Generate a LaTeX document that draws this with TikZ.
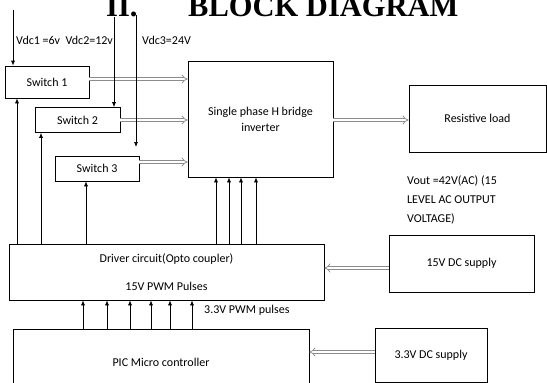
\documentclass[tikz,border=0pt]{standalone}
\usepackage{fontspec}
\setmainfont{Carlito}
\newfontfamily\titlefont{Liberation Serif}
\usetikzlibrary{arrows.meta}

\begin{document}
\begin{tikzpicture}[x=1pt, y=-1pt,
  blocco/.style={draw, line width=0.7pt, inner sep=0pt, font=\fontsize{12}{14}\selectfont},
  segnale/.style={line width=0.7pt, -{Latex[length=5pt,width=4pt]}},
  potenza/.style={draw=colFreccia, double=white, double distance=2.4pt, line width=0.75pt, -{Implies}},
  testo/.style={font=\fontsize{12}{14}\selectfont, inner sep=0pt}]

% Colori
\definecolor{colFreccia}{HTML}{8C8C8C}

% Cornice
\useasboundingbox (0,0) rectangle (547,383);
\clip (0,0) rectangle (547,383);

% Titolo
\node[font=\titlefont\bfseries\fontsize{30.5}{31}\selectfont, anchor=base west, inner sep=0pt] (numero) at (106,16) {II.};
\node[font=\titlefont\bfseries\fontsize{30.5}{31}\selectfont, anchor=base west, inner sep=0pt] (titolo) at (188,16) {BLOCK DIAGRAM};

% Blocchi
\node[blocco, minimum width=84pt, minimum height=32pt] (sw1) at (47,82) {Switch 1};
\node[blocco, minimum width=85pt, minimum height=25pt] (sw2) at (77.5,120) {Switch 2};
\node[blocco, minimum width=84pt, minimum height=25pt] (sw3) at (97,168.5) {Switch 3};
\node[blocco, minimum width=145pt, minimum height=116pt, align=center] (inv) at (260.5,119) {Single phase H bridge\\[2pt]inverter};
\node[blocco, minimum width=137pt, minimum height=67pt] (load) at (477.5,118.5) {Resistive load};
\node[blocco, minimum width=315pt, minimum height=56pt, align=center] (drv) at (166.5,272) {Driver circuit(Opto coupler)\\[14pt]15V PWM Pulses};
\node[blocco, minimum width=145pt, minimum height=57pt] (sup15) at (461.5,263.5) {15V DC supply};
\node[blocco, minimum width=296pt, minimum height=66pt] (pic) at (161,362) {PIC Micro controller};
\node[blocco, minimum width=112pt, minimum height=54pt] (sup33) at (431,355) {3.3V DC supply};

% Uscite degli interruttori
\draw[potenza] (sw1.east |- 0,79) -- (inv.west |- 0,79);
\draw[potenza] (sw2.east) -- (sw2.east -| inv.west);
\draw[potenza] (sw3.east |- 0,162) -- (inv.west |- 0,162);
\draw[potenza] (inv.east |- 0,120) -- (load.west |- 0,120);
\node[testo, anchor=north west, align=left, font=\fontsize{12}{19}\selectfont] (vout) at (407,176) {Vout =42V(AC) (15\\LEVEL AC OUTPUT\\VOLTAGE)};

% Tensioni continue
\coordinate (v1) at (13,10);
\coordinate (v2) at (114,17);
\coordinate (v3) at (136,15);
\coordinate (v3e) at (136,147);
\draw[segnale] (v1) -- (v1 |- sw1.north);
\draw[segnale] (v2) -- (v2 |- sw2.north);
\draw[segnale] (v3) -- (v3e);
\node[testo, anchor=west] (lv12) at (16,40) {Vdc1 =6v\ \ Vdc2=12v};
\node[testo, anchor=west] (lv3) at (142,40) {Vdc3=24V};

% Pilotaggio
\draw[segnale] (17,0 |- drv.north) -- (17,0 |- sw1.south);
\draw[segnale] (41,0 |- drv.north) -- (41,0 |- sw2.south);
\draw[segnale] (86,0 |- drv.north) -- (86,0 |- sw3.south);
\foreach \x in {216,229,241,256}
  \draw[segnale] (\x,0 |- drv.north) -- (\x,0 |- inv.south);

% Impulsi PWM dal PIC
\foreach \x in {83,107,130,151,170,192}
  \draw[segnale] (\x,0 |- pic.north) -- (\x,0 |- drv.south);
\node[testo, anchor=west] (lpwm) at (204,310) {3.3V PWM pulses};

% Alimentazioni
\draw[potenza] (sup15.west |- 0,268) -- (drv.east |- 0,268);
\draw[potenza] (sup33.west |- 0,352) -- (pic.east |- 0,352);

\end{tikzpicture}
\end{document}
